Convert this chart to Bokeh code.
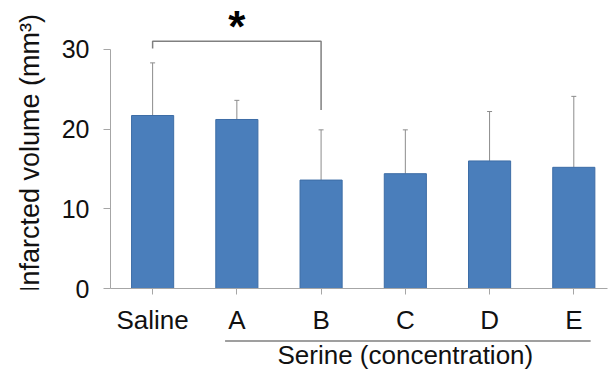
import math
from bokeh.plotting import figure
from bokeh.models import ColumnDataSource, LinearAxis, FixedTicker, Range1d
from bokeh.layouts import row, column
from bokeh.core.properties import value
from bokeh.embed import file_html
from bokeh.resources import INLINE

# ---- data ----
categories = ["Saline", "A", "B", "C", "D", "E"]
means = [21.7, 21.2, 13.6, 14.4, 16.0, 15.2]
upper = [28.3, 23.6, 19.9, 19.9, 22.2, 24.1]
y_ticks = [0, 10, 20, 30]
y_label = "Infarcted volume (mm³)"
group_label = "Serine (concentration)"
group_members = ["A", "B", "C", "D", "E"]
sig_pair = ["Saline", "B"]
sig_leg_bottoms = [30.1, 22.4]
sig_top = 31.0
sig_text = "*"

FONT = "Liberation Sans"
TXT = "#111111"
xs = list(range(len(categories)))
src = ColumnDataSource(dict(x=xs, top=means, upper=upper))

TOP_B, BOT_B = 1, 48
MAIN_H = TOP_B + 288 + BOT_B

p = figure(width=551, height=MAIN_H, x_range=Range1d(-0.5, 5.4), y_range=Range1d(0, 36),
           output_backend="svg", toolbar_location=None,
           min_border_left=51, min_border_right=2, min_border_top=TOP_B, min_border_bottom=BOT_B)
p.outline_line_color = None
p.grid.visible = False

# error bars (upper only)
err_col = "#8c8c8c"
p.segment(x0="x", y0="top", x1="x", y1="upper", source=src, line_color=err_col, line_width=1)
p.scatter(x="x", y="upper", source=src, marker="dash", size=5, line_color=err_col, line_width=1)

# bars
p.vbar(x="x", top="top", bottom=0, width=0.5, source=src,
       fill_color="#4a7ebb", line_color="#3d6da6", line_width=1)

# significance bracket
i0 = categories.index(sig_pair[0])
i1 = categories.index(sig_pair[1])
p.line(x=[i0, i0, i1, i1], y=[sig_leg_bottoms[0], sig_top, sig_top, sig_leg_bottoms[1]],
       line_color="#808080", line_width=1.5)
p.text(x=[(i0 + i1) / 2], y=[sig_top + 1.9], text=[sig_text], text_font=value(FONT),
       text_font_style="bold", text_font_size="44px", text_align="center",
       text_baseline="middle", text_color="black")

# y axis
ya = p.yaxis[0]
ya.ticker = FixedTicker(ticks=y_ticks)
ya.bounds = (y_ticks[0], y_ticks[-1])
ya.major_label_text_font = FONT
ya.major_label_text_font_size = "25px"
ya.major_label_text_color = TXT
ya.major_label_standoff = 14
ya.major_tick_in = 0
ya.major_tick_out = 7
ya.minor_tick_out = 0
ya.minor_tick_in = 0
ya.axis_line_color = "#a6a6a6"
ya.major_tick_line_color = "#a6a6a6"

# x axis
xa = p.xaxis[0]
xa.ticker = FixedTicker(ticks=xs)
xa.major_label_overrides = {i: c for i, c in zip(xs, categories)}
xa.major_label_text_font = FONT
xa.major_label_text_font_size = "26px"
xa.major_label_text_color = TXT
xa.major_label_standoff = 10
xa.major_tick_in = 0
xa.major_tick_out = 6
xa.minor_tick_out = 0
xa.minor_tick_in = 0
xa.axis_line_color = "#a6a6a6"
xa.major_tick_line_color = "#a6a6a6"

# ---- y-axis title panel (shares the y range) ----
pl = figure(width=58, height=MAIN_H, x_range=Range1d(0, 1), y_range=p.y_range,
            x_axis_type=None, y_axis_type=None, output_backend="svg", toolbar_location=None,
            min_border_left=0, min_border_right=0, min_border_top=TOP_B, min_border_bottom=BOT_B)
pl.outline_line_color = None
pl.grid.visible = False
pl.text(x=[0.5], y=[17.0], text=[y_label], angle=math.pi / 2, text_font=value(FONT),
        text_font_size="27px", text_color=TXT, text_align="center", text_baseline="middle")

# ---- group panel below (shares the x range) ----
g0 = categories.index(group_members[0])
g1 = categories.index(group_members[-1])
pg = figure(width=551, height=38, x_range=p.x_range, y_range=Range1d(38, 0),
            x_axis_type=None, y_axis_type=None, output_backend="svg", toolbar_location=None,
            min_border_left=51, min_border_right=2, min_border_top=0, min_border_bottom=0)
pg.outline_line_color = None
pg.grid.visible = False
pg.line(x=[g0 - 0.14, g1 + 0.2], y=[3.5, 3.5], line_color="#404040", line_width=1.2)
pg.text(x=[(g0 + g1) / 2], y=[17], text=[group_label], text_font=value(FONT),
        text_font_size="26px", text_color=TXT, text_align="center", text_baseline="middle")

layout = row(pl, column(p, pg))
open("out.html", "w").write(file_html(layout, INLINE))
